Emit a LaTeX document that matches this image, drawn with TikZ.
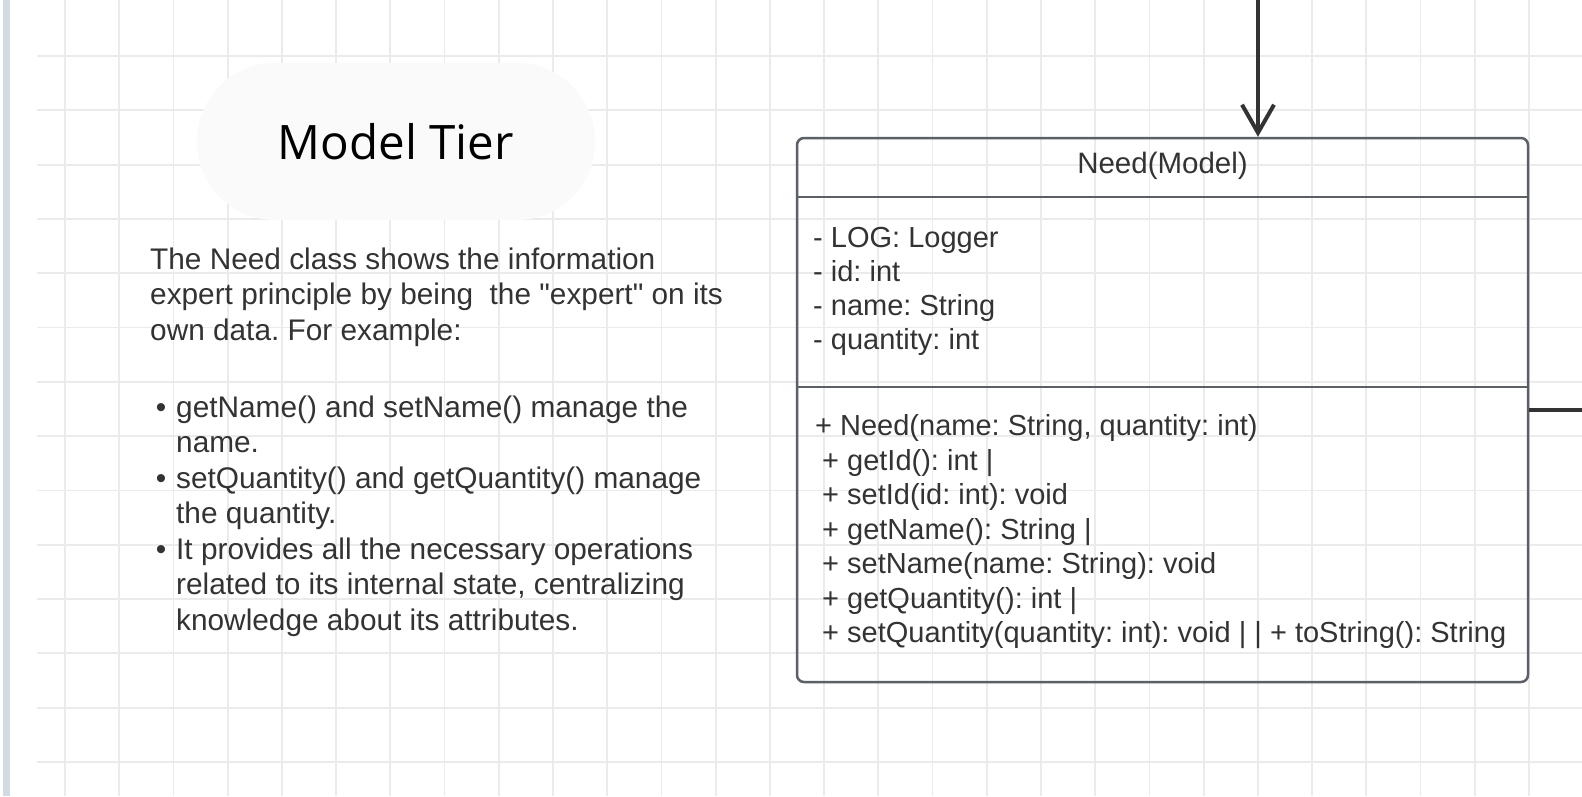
\documentclass[tikz,border=0pt]{standalone}
\usepackage{fontspec}
\setmainfont{Liberation Sans}
\newfontfamily\titlefont{Open Sans}
\usetikzlibrary{arrows.meta}
\definecolor{gridc}{HTML}{EBEBEB}
\definecolor{barc}{HTML}{D2DAE2}
\definecolor{pillc}{HTML}{FAFAFA}
\definecolor{txtc}{HTML}{333333}
\definecolor{boxc}{HTML}{5B5F66}
\definecolor{connc}{HTML}{333333}
\tikzset{
  gridline/.style={draw=gridc, line width=1.8pt},
  pill/.style={fill=pillc, rounded corners=78pt, minimum width=398pt, minimum height=157pt, inner sep=0pt, font=\titlefont\fontsize{47.5}{50}\selectfont, text=black},
  classbox/.style={draw=boxc, line width=2.5pt, rounded corners=7pt, minimum width=731pt, minimum height=544pt, inner sep=0pt},
  divider/.style={draw=boxc, line width=2.5pt},
  conn/.style={draw=connc, line width=4pt},
  ptext/.style={anchor=base west, inner sep=0pt, text=txtc, font=\frenchspacing\fontsize{29.8}{34}\selectfont},
  ctext/.style={anchor=base west, inner sep=0pt, text=txtc, font=\frenchspacing\fontsize{29}{34}\selectfont},
  bulletdot/.style={anchor=base, inner sep=0pt, text=txtc, font=\fontsize{29.8}{34}\selectfont},
}
\begin{document}
\begin{tikzpicture}[x=1pt, y=-1pt]
\useasboundingbox (0,0) rectangle (1582,796);
\fill[white] (0,0) rectangle (1582,796);
% grid
\foreach \i in {0,...,27} \draw[gridline] ({65+54.22*\i},0) -- ({65+54.22*\i},796);
\foreach \j in {0,...,13} \draw[gridline] (37,{56+54.3*\j}) -- (1582,{56+54.3*\j});
% left bar
\fill[barc] (3,0) rectangle (10,796);
% title pill
\node[pill] (tier) at (396,141.5) {Model Tier};
% left paragraph
\node[ptext] (p1) at (150,269) {The Need class shows the information};
\node[ptext] (p2) at (150,304.5) {expert principle by being\ \ the \textquotedbl expert\textquotedbl{} on its};
\node[ptext] (p3) at (150,340) {own data. For example:};
\node[bulletdot] (b1) at (161,417) {•};
\node[ptext] (l1) at (176,417) {getName() and setName() manage the};
\node[ptext] (l2) at (176,452.5) {name.};
\node[bulletdot] (b2) at (161,488) {•};
\node[ptext] (l3) at (176,488) {setQuantity() and getQuantity() manage};
\node[ptext] (l4) at (176,523.5) {the quantity.};
\node[bulletdot] (b3) at (161,559) {•};
\node[ptext] (l5) at (176,559) {It provides all the necessary operations};
\node[ptext] (l6) at (176,594.5) {related to its internal state, centralizing};
\node[ptext] (l7) at (176,630) {knowledge about its attributes.};
% class box
\node[classbox] (box) at (1162.5,410) {};
\draw[divider] (797,197) -- (1528,197);
\draw[divider] (797,387) -- (1528,387);
\node[anchor=base, inner sep=0pt, text=txtc, font=\fontsize{29.5}{34}\selectfont] (cname) at (1162.5,173) {Need(Model)};
\node[ctext] (a1) at (813,247) {- LOG: Logger};
\node[ctext] (a2) at (813,281) {- id: int};
\node[ctext] (a3) at (813,315) {- name: String};
\node[ctext] (a4) at (813,349) {- quantity: int};
\node[ctext] (m1) at (815,435) {+ Need(name: String, quantity: int)};
\node[ctext] (m2) at (822,470) {+ getId(): int |};
\node[ctext] (m3) at (822,504) {+ setId(id: int): void};
\node[ctext] (m4) at (822,539) {+ getName(): String |};
\node[ctext] (m5) at (822,573) {+ setName(name: String): void};
\node[ctext] (m6) at (822,608) {+ getQuantity(): int |};
\node[ctext] (m7) at (822,642) {+ setQuantity(quantity: int): void | | + toString(): String};
% connectors
\coordinate (topend) at (1258,0);
\coordinate (rightend) at (1582,410);
\draw[conn, -{Straight Barb[length=28pt, width=32pt]}] (topend) -- (topend |- box.north);
\draw[conn] (box.east) -- (rightend);
\end{tikzpicture}
\end{document}
